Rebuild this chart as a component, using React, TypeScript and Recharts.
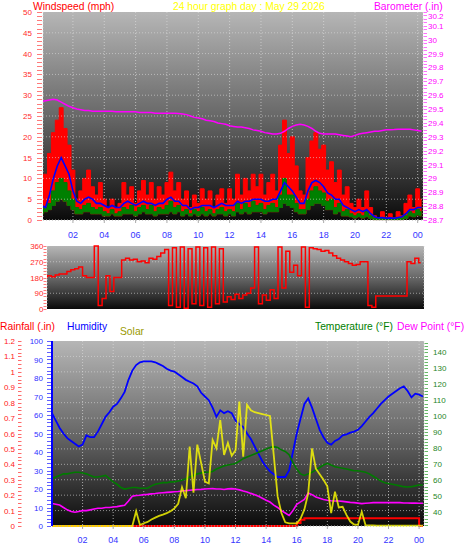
import React from 'react';
import { ComposedChart, Area, Line, XAxis, YAxis, CartesianGrid, ReferenceLine } from 'recharts';

// one reading every 15 minutes, from 00:00 to 24:15
const STEP_HOURS = 0.25;

const WIND_GUST = [
  10, 11, 16, 21, 24, 27, 22, 18,
  12, 5, 7, 10, 12, 8, 6, 9,
  5, 3, 5, 3, 4, 9, 6, 8,
  4, 7, 9.5, 6, 9, 5, 8, 6,
  9, 11.5, 7, 9, 5, 7, 3, 6,
  4, 7.5, 5, 7, 3, 6, 7.5, 4,
  7.5, 5, 11, 6, 10, 7, 11, 8,
  11, 6, 9, 11, 7, 18, 24, 16,
  20, 13, 7, 6, 15, 19, 21, 17,
  18, 12, 14, 9, 12, 6, 8, 4,
  3, 5, 3, 7, 3, 1, 0.5, 2,
  0.5, 1.5, 0.5, 2, 1, 4, 6, 3,
  7.5, 5,
];

const WIND_AVG = [
  3.5, 3, 6, 10, 13, 15, 13, 11,
  7, 4.5, 4, 5, 5.5, 5, 4, 4,
  3.5, 3, 3.5, 3, 3, 4, 4.5, 4,
  3.5, 4, 4.5, 4, 4, 3.5, 4, 4,
  5, 5.5, 4.5, 4.5, 3.5, 3.5, 2.5, 3,
  3, 3.5, 3.5, 3.5, 3, 3.5, 4, 3.5,
  3.5, 3.5, 4.5, 4, 4.5, 4.5, 5, 5,
  5, 4.5, 4.5, 5, 5, 7, 9, 8,
  7, 5.5, 4, 4, 7, 9, 9.5, 9,
  8, 6.5, 6, 5, 5, 3.5, 3, 2.5,
  2, 2.5, 2, 2.5, 1.5, 0.8, 0.5, 0.6,
  0.4, 0.5, 0.4, 0.6, 0.8, 1.5, 2.5, 2.5,
  3, 3,
];

const WIND_SPEED = [
  2.5, 3, 4, 7, 9, 10, 9, 7,
  5, 3, 2.5, 3.5, 4, 3, 2.5, 3,
  2, 1.5, 2.5, 1.5, 2, 3, 2.5, 3.5,
  2, 3, 3.5, 2.5, 3.5, 2, 3, 2.5,
  3.5, 4.5, 3, 3.5, 2, 2.5, 1.5, 2.5,
  2, 3, 2, 2.5, 1.5, 2.5, 3, 2,
  2.5, 2, 4, 2.5, 4, 3, 4.5, 3.5,
  4, 2.5, 3.5, 4, 3, 6, 10, 6,
  6, 4, 2.5, 2.5, 5, 7, 8, 7,
  6.5, 4.5, 5, 3, 4, 2, 2.5, 1.5,
  1, 1.5, 1, 2, 1, 0.5, 0.3, 0.5,
  0.2, 0.4, 0.2, 0.5, 0.5, 1, 2, 1.5,
  2.5, 2,
];

const WIND_LULL = [
  1.5, 2, 2.5, 3.5, 4.5, 5, 4.5, 3.5,
  2.5, 1.5, 1.5, 2, 2, 1.5, 1.5, 1.5,
  1, 1, 1.5, 1, 1, 1.5, 1.5, 1.5,
  1, 1.5, 2, 1.5, 1.5, 1, 1.5, 1.5,
  1.5, 2, 1.5, 2, 1, 1.5, 1, 1.5,
  1, 1.5, 1, 1.5, 1, 1.5, 1.5, 1,
  1.5, 1, 2, 1.5, 2, 1.5, 2, 2,
  2, 1.5, 2, 2, 2, 3, 4, 3.5,
  3, 2, 1.5, 1.5, 2.5, 3.5, 4, 4,
  3.5, 2.5, 2.5, 1.5, 2, 1, 1, 0.8,
  0.5, 0.8, 0.5, 0.8, 0.4, 0.1, 0.1, 0.1,
  0.1, 0.1, 0.1, 0.1, 0.1, 0.4, 1, 0.8,
  1.2, 1,
];

const BAROMETER = [
  29.555, 29.56, 29.565, 29.57, 29.565, 29.55, 29.535, 29.52,
  29.51, 29.5, 29.495, 29.49, 29.49, 29.485, 29.485, 29.485,
  29.485, 29.485, 29.485, 29.48, 29.48, 29.48, 29.48, 29.48,
  29.48, 29.475, 29.475, 29.475, 29.475, 29.47, 29.47, 29.47,
  29.47, 29.47, 29.47, 29.468, 29.465, 29.46, 29.45, 29.44,
  29.435, 29.43, 29.42, 29.415, 29.41, 29.4, 29.395, 29.39,
  29.38, 29.375, 29.37, 29.37, 29.365, 29.36, 29.35, 29.345,
  29.34, 29.33, 29.325, 29.32, 29.32, 29.325, 29.34, 29.36,
  29.375, 29.385, 29.39, 29.385, 29.375, 29.36, 29.34, 29.325,
  29.32, 29.32, 29.32, 29.32, 29.315, 29.31, 29.305, 29.3,
  29.31, 29.32, 29.325, 29.33, 29.335, 29.34, 29.34, 29.345,
  29.35, 29.35, 29.352, 29.355, 29.355, 29.355, 29.355, 29.35,
  29.345, 29.34,
];

const WIND_DIR = [
  190, 185, 190, 185, 195, 200, 200, 215,
  225, 230, 240, 190, 180, 180, 360, 20,
  60, 190, 100, 180, 180, 280, 290, 280,
  285, 270, 275, 265, 290, 285, 300, 320,
  340, 20, 350, 10, 355, 5, 345, 30,
  355, 20, 350, 10, 355, 30, 345, 40,
  70, 55, 85, 60, 80, 90, 120, 355,
  30, 80, 50, 110, 60, 355, 120, 330,
  210, 250, 190, 355, 10, 350, 345, 340,
  330, 335, 320, 305, 290, 280, 270, 260,
  250, 255, 270, 270, 20, 10, 75, 75,
  75, 75, 75, 75, 75, 75, 270, 260,
  290, 265,
];

const HUMIDITY = [
  61, 57, 53, 50, 47.5, 46, 44.5, 43,
  44, 49, 48, 48, 51, 55, 59, 61.5,
  64.5, 66, 69, 72.5, 79, 84, 87, 88.5,
  89, 89, 89, 88.5, 87.5, 86.5, 85, 84,
  83.5, 82, 80.5, 79, 78, 77, 75.5, 72,
  70, 68, 64, 59, 62.5, 61, 62, 61,
  57, 55, 53.5, 50, 47, 43, 39, 35,
  32, 29.5, 28, 26.5, 26.5, 26.5, 30, 40,
  50, 58, 66, 69, 64, 58, 52, 48,
  45, 44, 46, 47, 49, 49.5, 50.5, 51,
  52, 54, 56.5, 59, 61, 63.5, 66, 68,
  70, 71.5, 73, 74.5, 75.5, 73, 69.5, 71.5,
  71, 70,
];

const TEMPERATURE = [
  61, 62, 63, 64, 64, 64.5, 65, 65,
  64.5, 64, 63, 62, 62, 62.5, 63, 61,
  59, 57.5, 55.5, 54.5, 55, 55.5, 55.5, 55,
  55, 55, 56.5, 57.5, 58, 58.5, 58.5, 59,
  59, 59.5, 60, 61, 62, 63, 64, 64.5,
  65, 65, 65.5, 67, 68, 69, 69.5, 70,
  70.5, 72, 73.5, 74.5, 75.5, 76.5, 77.5, 78.5,
  79.5, 80.5, 81, 80.5, 79, 78, 76, 71,
  67, 64, 63, 64, 65, 66.5, 68, 69.5,
  70.5, 69.5, 68.5, 68, 67.5, 67, 66.5, 66,
  66, 65.5, 65, 64, 62.5, 61, 59.5, 58.5,
  58, 57.5, 57, 56.5, 56, 55.8, 56, 56.5,
  57, 57,
];

const DEW_POINT = [
  45.5, 45, 44.5, 43, 41.5, 40.5, 40, 40.5,
  41, 41, 41.5, 42, 42.5, 42.5, 43, 43,
  43.3, 43.5, 44, 44.4, 47, 50, 50.5, 50.6,
  51, 51.2, 51.5, 51.7, 52, 52.2, 52.4, 52.6,
  52.8, 53, 53.3, 53.5, 53.8, 54, 54.2, 54.3,
  54.5, 54.7, 54.8, 54.5, 54.5, 54.2, 54.6, 54.8,
  54.5, 54, 53.3, 52.7, 51.8, 51, 50, 48.8,
  47.5, 46.4, 44.5, 43, 41, 39.5, 38, 41,
  45, 46.5, 48, 52, 51, 49.6, 48.8, 48,
  47.5, 47.2, 47, 47, 46.8, 46.5, 46.2, 46,
  45.7, 45.4, 45.6, 45.8, 46, 46, 46, 46,
  46, 46, 46, 46, 45.8, 45.8, 45.7, 45.7,
  45.6, 45.6,
];

const SOLAR = [
  0, 0, 0, 0, 0, 0, 0, 0,
  0, 0, 0, 0, 0, 0, 0, 0,
  0, 0, 0, 0, 0, 0, 80, 5,
  15, 22, 35, 45, 55, 62, 70, 80,
  95, 120, 210, 150, 430, 180, 440, 340,
  240, 230, 465, 420, 573, 384, 450, 380,
  410, 672, 375, 655, 625, 615, 610, 605,
  600, 595, 380, 160, 70, 20, 14, 14,
  14, 40, 90, 176, 420, 310, 280, 250,
  215, 70, 185, 100, 104, 60, 24, 8,
  6, 77, 4, 3, 3, 2, 2, 2,
  2, 2, 2, 2, 2, 2, 2, 2,
  2, 2,
];

const RAINFALL = [
  0, 0, 0, 0, 0, 0, 0, 0,
  0, 0, 0, 0, 0, 0, 0, 0,
  0, 0, 0, 0, 0, 0, 0, 0,
  0, 0, 0, 0, 0, 0, 0, 0,
  0, 0, 0, 0, 0, 0, 0, 0,
  0, 0, 0, 0, 0, 0, 0, 0,
  0, 0, 0, 0, 0, 0, 0, 0,
  0, 0, 0, 0, 0, 0, 0, 0,
  0.02, 0.04, 0.05, 0.05, 0.05, 0.05, 0.05, 0.05,
  0.05, 0.05, 0.05, 0.05, 0.05, 0.05, 0.05, 0.05,
  0.05, 0.05, 0.05, 0.05, 0.05, 0.05, 0.05, 0.05,
  0.05, 0.05, 0.05, 0.05, 0.05, 0.05, 0.05, 0.05,
  0, 0,
];

const HOUR_TICKS = [2, 4, 6, 8, 10, 12, 14, 16, 18, 20, 22, 24];
const WIND_LABELS = [0, 5, 10, 15, 20, 25, 30, 35, 40, 45, 50];
const BARO_LABELS = [28.7, 28.8, 28.9, 29, 29.1, 29.2, 29.3, 29.4, 29.5, 29.6, 29.7, 29.8, 29.9, 30, 30.1, 30.2];
const DIR_LABELS = [0, 90, 180, 270, 360];
const DIR_NAMES = ['N', 'E', 'S', 'W', 'N'];
const HUM_LABELS = [0, 10, 20, 30, 40, 50, 60, 70, 80, 90, 100];
const RAIN_LABELS = [0, 0.1, 0.2, 0.3, 0.4, 0.5, 0.6, 0.7, 0.8, 0.9, 1, 1.1, 1.2];
const TEMP_LABELS = [40, 50, 60, 70, 80, 90, 100, 110, 120, 130, 140];

const FONT = "'Liberation Sans', Arial, Helvetica, sans-serif";
const GRID = '#dcdcdc';
const HOUR_LABEL = '#3434ff';

const hourLabel = (h: number) => String(h % 24).padStart(2, '0');
const numLabel = (v: number) => String(Number(v.toFixed(2)));

const range = (from: number, to: number, step: number) => {
  const out: number[] = [];
  for (let v = from; v <= to + 1e-9; v += step) out.push(Math.round(v * 1000) / 1000);
  return out;
};

type TickSpec = {
  labels: number[];
  color: string;
  dash: string;
  side: 'left' | 'right';
  dashFrom: number;
  dashTo: number;
  textOffset: number;
  // the top label sits just under the header, so it may be nudged down
  topValue?: number;
  topDy?: number;
};

const axisTick = (spec: TickSpec) => (props: any) => {
  const { x, y, payload } = props;
  const v = payload.value;
  const s = spec.side === 'left' ? -1 : 1;
  const major = spec.labels.some((m) => Math.abs(m - v) < 1e-6);
  const yy = Math.round(y) + 0.5;
  const dy = spec.topValue !== undefined && Math.abs(v - spec.topValue) < 1e-6 ? spec.topDy : 3;
  return (
    <g>
      <line x1={x + s * spec.dashFrom} x2={x + s * spec.dashTo} y1={yy} y2={yy} stroke={spec.dash} />
      {major && (
        <text
          x={x + s * spec.textOffset}
          y={y}
          dy={dy}
          textAnchor={spec.side === 'left' ? 'end' : 'start'}
          fontSize={8}
          fill={spec.color}
        >
          {numLabel(v)}
        </text>
      )}
    </g>
  );
};

const compassTick = (props: any) => {
  const { x, y, payload } = props;
  const name = DIR_NAMES[DIR_LABELS.indexOf(payload.value)];
  return (
    <text x={x + 19} y={y} dy={5} textAnchor="middle" fontSize={13} fill="#ff0000">
      {name}
    </text>
  );
};

const windData = WIND_GUST.map((gust, i) => ({
  t: i * STEP_HOURS,
  gust,
  avg: WIND_AVG[i],
  speed: WIND_SPEED[i],
  lull: WIND_LULL[i],
  baro: BAROMETER[i],
}));

const dirData = WIND_DIR.map((dir, i) => ({ t: i * STEP_HOURS, dir }));

const climateData = HUMIDITY.map((hum, i) => ({
  t: i * STEP_HOURS,
  hum,
  temp: TEMPERATURE[i],
  dew: DEW_POINT[i],
  solar: SOLAR[i],
  rain: RAINFALL[i],
}));

const WindPanel = () => (
  <ComposedChart width={470} height={245} data={windData} margin={{ top: 12, right: 0, bottom: 0, left: 0 }}>
    <CartesianGrid yAxisId="wind" horizontal={false} fill="url(#panelBg)" stroke={GRID} strokeDasharray="1 2" strokeOpacity={0.7} />
    {WIND_LABELS.slice(1, -1).map((v) => (
      <ReferenceLine key={v} yAxisId="wind" y={v} stroke={GRID} strokeDasharray="1 2" strokeOpacity={0.6} />
    ))}
    <XAxis
      dataKey="t"
      type="number"
      domain={[0.09, 24.34]}
      allowDataOverflow
      ticks={HOUR_TICKS}
      interval={0}
      tickFormatter={hourLabel}
      height={25}
      tickSize={3}
      tickMargin={9}
      tick={{ fill: HOUR_LABEL, fontSize: 9 }}
      axisLine={{ stroke: '#aaaaaa', strokeDasharray: '1 2' }}
      tickLine={{ stroke: '#aaaaaa' }}
    />
    <YAxis
      yAxisId="wind"
      type="number"
      domain={[0, 50]}
      ticks={range(0, 50, 1)}
      interval={0}
      width={43}
      axisLine={false}
      tickLine={false}
      tickSize={0}
      tickMargin={0}
      tick={axisTick({ labels: WIND_LABELS, color: '#ff2a2a', dash: '#ff7a7a', side: 'left', dashFrom: 1, dashTo: 6, textOffset: 11 })}
    />
    <YAxis
      yAxisId="baro"
      orientation="right"
      type="number"
      domain={[28.7, 30.2]}
      ticks={range(28.7, 30.2, 0.025)}
      interval={0}
      width={47}
      axisLine={false}
      tickLine={false}
      tickSize={0}
      tickMargin={0}
      tick={axisTick({
        labels: BARO_LABELS,
        color: '#ff00ff',
        dash: '#ff70ff',
        side: 'right',
        dashFrom: 0.5,
        dashTo: 4,
        textOffset: 5,
        topValue: 30.2,
        topDy: 6.5,
      })}
    />
    <Area yAxisId="wind" type="step" dataKey={(d: any) => [d.lull, d.gust]} stroke="#ff0000" fill="#ff0000" fillOpacity={1} isAnimationActive={false} />
    <Line yAxisId="wind" dataKey="avg" stroke="#0000ff" strokeWidth={1.6} dot={false} isAnimationActive={false} />
    <Area yAxisId="wind" type="step" dataKey={(d: any) => [d.lull, d.speed]} stroke="#007a00" fill="#008000" fillOpacity={1} isAnimationActive={false} />
    <Line yAxisId="baro" dataKey="baro" stroke="#ff00ff" strokeWidth={1.5} dot={false} isAnimationActive={false} />
  </ComposedChart>
);

const DirectionPanel = () => (
  <ComposedChart width={470} height={75} data={dirData} margin={{ top: 6, right: 0, bottom: 5, left: 0 }}>
    <CartesianGrid yAxisId="dir" horizontal={false} fill="url(#panelBg)" stroke={GRID} strokeDasharray="1 2" strokeOpacity={0.7} />
    {DIR_LABELS.slice(1, -1).map((v) => (
      <ReferenceLine key={v} yAxisId="dir" y={v} stroke={GRID} strokeDasharray="1 2" strokeOpacity={0.6} />
    ))}
    <XAxis dataKey="t" type="number" domain={[0.35, 24.46]} allowDataOverflow ticks={HOUR_TICKS} interval={0} height={1} tick={false} tickLine={false} axisLine={false} />
    <YAxis
      yAxisId="dir"
      type="number"
      domain={[0, 360]}
      ticks={range(0, 360, 18)}
      interval={0}
      width={47}
      axisLine={false}
      tickLine={false}
      tickSize={0}
      tickMargin={0}
      tick={axisTick({ labels: DIR_LABELS, color: '#ff2a2a', dash: '#ff7a7a', side: 'left', dashFrom: 0.5, dashTo: 3.5, textOffset: 3.5 })}
    />
    <YAxis
      yAxisId="compass"
      orientation="right"
      type="number"
      domain={[0, 360]}
      ticks={DIR_LABELS}
      interval={0}
      width={46}
      axisLine={false}
      tickLine={false}
      tickSize={0}
      tickMargin={0}
      tick={compassTick}
    />
    <Line yAxisId="dir" type="step" dataKey="dir" stroke="#ff0000" strokeWidth={1.5} dot={false} isAnimationActive={false} />
  </ComposedChart>
);

const ClimatePanel = () => (
  <ComposedChart width={470} height={224} data={climateData} margin={{ top: 11, right: 0, bottom: 0, left: 0 }}>
    <CartesianGrid yAxisId="rain" horizontal={false} fill="url(#panelBg)" stroke={GRID} strokeDasharray="1 2" strokeOpacity={0.7} />
    {RAIN_LABELS.slice(1, -1).map((v) => (
      <ReferenceLine key={v} yAxisId="rain" y={v} stroke={GRID} strokeDasharray="1 2" strokeOpacity={0.6} />
    ))}
    <XAxis
      dataKey="t"
      type="number"
      domain={[0, 24.32]}
      allowDataOverflow
      ticks={HOUR_TICKS}
      interval={0}
      tickFormatter={hourLabel}
      height={28}
      tickSize={3}
      tickMargin={8}
      tick={{ fill: HOUR_LABEL, fontSize: 9 }}
      axisLine={{ stroke: '#aaaaaa', strokeDasharray: '1 2' }}
      tickLine={{ stroke: '#aaaaaa' }}
    />
    <YAxis
      yAxisId="rain"
      type="number"
      domain={[0, 1.2]}
      ticks={range(0, 1.2, 0.025)}
      interval={0}
      width={22}
      axisLine={false}
      tickLine={false}
      tickSize={0}
      tickMargin={0}
      tick={axisTick({ labels: RAIN_LABELS, color: '#ff2020', dash: '#ff6a6a', side: 'left', dashFrom: 0.5, dashTo: 4, textOffset: 7 })}
    />
    <YAxis
      yAxisId="hum"
      type="number"
      domain={[0, 100]}
      ticks={range(0, 100, 2)}
      interval={0}
      width={30}
      axisLine={{ stroke: '#0000ff', strokeWidth: 2 }}
      tickLine={false}
      tickSize={0}
      tickMargin={0}
      tick={axisTick({ labels: HUM_LABELS, color: '#3030ff', dash: '#6060ff', side: 'left', dashFrom: 1, dashTo: 5, textOffset: 9 })}
    />
    <YAxis
      yAxisId="temp"
      orientation="right"
      type="number"
      domain={[31.4, 147.1]}
      ticks={range(32, 146, 2)}
      interval={0}
      width={46}
      axisLine={false}
      tickLine={false}
      tickSize={0}
      tickMargin={0}
      tick={axisTick({ labels: TEMP_LABELS, color: '#1f861f', dash: '#66b866', side: 'right', dashFrom: 0.5, dashTo: 4, textOffset: 9 })}
    />
    <YAxis yAxisId="solar" hide type="number" domain={[0, 1000]} />
    <Line yAxisId="hum" dataKey="hum" stroke="#0000ff" strokeWidth={1.8} dot={false} isAnimationActive={false} />
    <Line yAxisId="temp" dataKey="temp" stroke="#007a00" strokeWidth={1.6} dot={false} isAnimationActive={false} />
    <Line yAxisId="temp" dataKey="dew" stroke="#ff00ff" strokeWidth={1.6} dot={false} isAnimationActive={false} />
    <Line yAxisId="rain" type="stepAfter" dataKey="rain" stroke="#ff0000" strokeWidth={2} dot={false} isAnimationActive={false} />
    <Line yAxisId="solar" dataKey="solar" stroke="#ffff00" strokeOpacity={0.8} strokeWidth={1.8} dot={false} isAnimationActive={false} />
  </ComposedChart>
);

const HEAD = 10.3;

export default function App() {
  return (
    <div style={{ position: 'absolute', left: 0, top: 0, width: 470, height: 554, background: '#fff', fontFamily: FONT, overflow: 'hidden' }}>
      <div style={{ position: 'absolute', left: 0, top: 0 }}>
        <WindPanel />
      </div>
      <div style={{ position: 'absolute', left: 0, top: 240 }}>
        <DirectionPanel />
      </div>
      <div style={{ position: 'absolute', left: 0, top: 330 }}>
        <ClimatePanel />
      </div>
      <svg width={470} height={554} style={{ position: 'absolute', left: 0, top: 0, pointerEvents: 'none' }}>
        <defs>
          <linearGradient id="panelBg" x1="0" y1="0" x2="0" y2="1">
            <stop offset="0" stopColor="#b6b6b6" />
            <stop offset="0.33" stopColor="#828282" />
            <stop offset="0.5" stopColor="#686868" />
            <stop offset="0.75" stopColor="#3a3a3a" />
            <stop offset="0.9" stopColor="#1e1e1e" />
            <stop offset="1" stopColor="#0a0a0a" />
          </linearGradient>
        </defs>
        <g fontSize={HEAD} fontFamily={FONT}>
          <text x={33} y={9.5} fill="#ff0000">Windspeed (mph)</text>
          <text x={173} y={9.5} fill="#ffff00">24 hour graph day : May 29 2026</text>
          <text x={374} y={9.5} fill="#ff00ff">Barometer (.in)</text>
          <text x={0} y={329.5} fill="#ff0000">Rainfall (.in)</text>
          <text x={67} y={329.5} fill="#0000ff">Humidity</text>
          <text x={120} y={334.5} fill="#9a9a00">Solar</text>
          <text x={315} y={329.5} fill="#008000">Temperature (°F)</text>
          <text x={397} y={329.5} fill="#ff00ff">Dew Point (°F)</text>
        </g>
      </svg>
    </div>
  );
}
